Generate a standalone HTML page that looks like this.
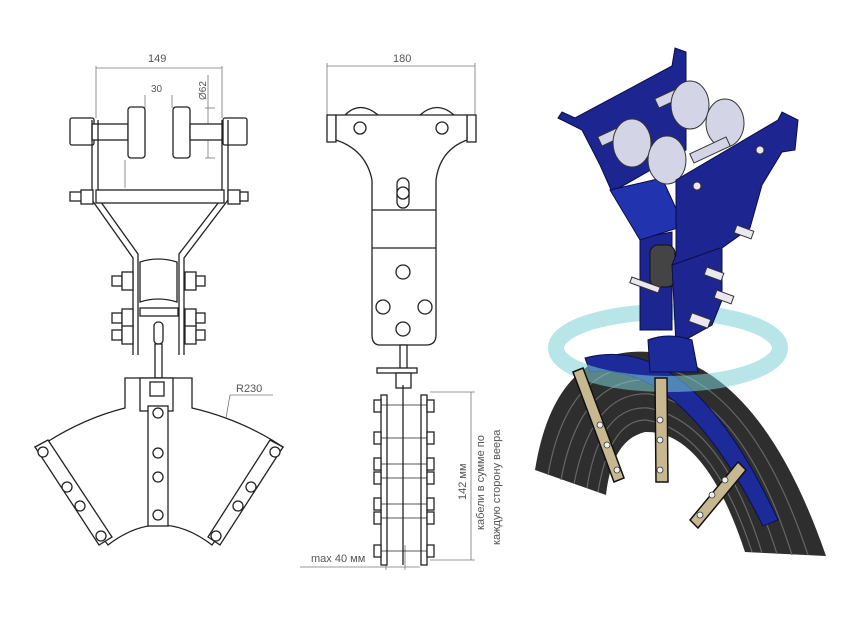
<!DOCTYPE html>
<html><head><meta charset="utf-8"><style>
html,body{margin:0;padding:0;background:#fff;}
svg{display:block;}
text{font-family:"Liberation Sans","DejaVu Sans",sans-serif;fill:#555;}
</style></head><body>
<svg width="858" height="638" viewBox="0 0 858 638" xmlns="http://www.w3.org/2000/svg">
<rect width="858" height="638" fill="#fff"/>
<g stroke="#222" stroke-width="1.3" fill="#fff">
<!-- LEFT VIEW -->
<g stroke="#777" stroke-width="0.8">
<line x1="96" y1="66" x2="96" y2="118"/><line x1="222" y1="66" x2="222" y2="118"/>
<line x1="96" y1="68" x2="222" y2="68"/>
<line x1="145" y1="95" x2="145" y2="108"/><line x1="172" y1="95" x2="172" y2="108"/>
<line x1="205" y1="108" x2="215" y2="108"/><line x1="205" y1="158" x2="215" y2="158"/>
<line x1="208" y1="75" x2="208" y2="158"/>
<line x1="125" y1="160" x2="125" y2="188"/>
</g>
<text x="148" y="62" font-size="11" stroke="none">149</text>
<text x="151" y="92" font-size="10" stroke="none">30</text>
<text x="0" y="0" font-size="10" stroke="none" transform="translate(206,100) rotate(-90)">Ø62</text>
<rect x="70" y="118" width="24" height="27" rx="2"/>
<rect x="92" y="124" width="36" height="16"/>
<rect x="128" y="107" width="17" height="51" rx="3"/>
<rect x="173" y="107" width="17" height="51" rx="3"/>
<rect x="190" y="124" width="34" height="16"/>
<rect x="223" y="118" width="24" height="27" rx="2"/>
<path d="M92 120 V200 L133 258 V355 M98 120 V198 L138 254 V355" fill="none"/>
<path d="M228 120 V200 L184 258 V355 M222 120 V198 L179 254 V355" fill="none"/>
<rect x="96" y="190" width="128" height="13"/>
<rect x="70" y="192" width="12" height="9"/><rect x="81" y="190" width="12" height="14"/>
<rect x="228" y="190" width="12" height="14"/><rect x="240" y="192" width="8" height="9"/>
<path d="M140 262 Q158 256 177 262 V302 Q158 296 140 302 Z"/>
<rect x="140" y="308" width="38" height="8"/>
<g>
<rect x="112" y="276" width="10" height="10"/><rect x="122" y="272" width="11" height="18"/>
<rect x="185" y="272" width="11" height="18"/><rect x="196" y="276" width="9" height="10"/>
<rect x="112" y="313" width="10" height="10"/><rect x="122" y="309" width="11" height="18"/>
<rect x="185" y="309" width="11" height="18"/><rect x="196" y="313" width="9" height="10"/>
<rect x="112" y="330" width="10" height="10"/><rect x="122" y="326" width="11" height="18"/>
<rect x="185" y="326" width="11" height="18"/><rect x="196" y="330" width="9" height="10"/>
</g>
<rect x="154" y="322" width="9" height="22" rx="4"/>
<rect x="155" y="344" width="7" height="34"/>
<path d="M125 378 H192 V408 Q235 418 272 440 L283 447 L212 545 Q160 505 108 545 L35 447 L47 442 Q85 418 125 408 Z"/>
<rect x="140" y="378" width="33" height="33"/>
<rect x="150" y="382" width="14" height="14"/>
<rect x="148" y="406" width="20" height="120"/>
<path d="M35 447 L48 440 L112 537 L99 545 Z"/>
<path d="M283 447 L270 440 L208 537 L220 545 Z"/>
<g fill="#fff">
<circle cx="158" cy="413" r="5"/><circle cx="158" cy="453" r="5"/><circle cx="158" cy="477" r="5"/><circle cx="158" cy="515" r="5"/>
<circle cx="43" cy="452" r="5"/><circle cx="67" cy="487" r="5"/><circle cx="80" cy="506" r="5"/><circle cx="101" cy="536" r="5"/>
<circle cx="275" cy="452" r="5"/><circle cx="251" cy="487" r="5"/><circle cx="238" cy="506" r="5"/><circle cx="216" cy="536" r="5"/>
</g>
<path d="M230 395 L273 395 M230 395 L226 418" stroke="#777" fill="none" stroke-width="0.8"/>
<text x="236" y="392" font-size="11" stroke="none">R230</text>

<!-- MIDDLE VIEW -->
<g stroke="#777" stroke-width="0.8">
<line x1="327" y1="63" x2="327" y2="118"/><line x1="475" y1="63" x2="475" y2="118"/>
<line x1="327" y1="66" x2="475" y2="66"/>
<line x1="430" y1="392" x2="475" y2="392"/><line x1="430" y1="560" x2="475" y2="560"/>
<line x1="471" y1="392" x2="471" y2="560"/>
<line x1="386" y1="545" x2="386" y2="570"/><line x1="405" y1="545" x2="405" y2="570"/>
<line x1="300" y1="567" x2="420" y2="567"/>
</g>
<text x="393" y="62" font-size="11" stroke="none">180</text>
<path d="M345 115 Q360 100 378 115 M420 115 Q437 100 454 115" fill="none"/>
<rect x="327" y="115" width="9" height="27"/><rect x="467" y="115" width="9" height="27"/>
<path d="M336 115 H467 V140 Q440 150 436 180 V335 Q436 345 426 345 H380 Q372 345 372 335 V180 Q366 150 336 140 Z"/>
<line x1="372" y1="210" x2="436" y2="210"/><line x1="372" y1="248" x2="436" y2="248"/>
<circle cx="360" cy="128" r="6"/><circle cx="442" cy="128" r="6"/>
<rect x="397" y="178" width="12" height="30" rx="6"/><circle cx="403" cy="193" r="6"/>
<circle cx="403" cy="272" r="7"/><circle cx="383" cy="307" r="7"/><circle cx="425" cy="307" r="7"/><circle cx="403" cy="329" r="7"/>
<rect x="400" y="345" width="7" height="28"/>
<rect x="377" y="368" width="40" height="5"/>
<rect x="396" y="373" width="15" height="15"/>
<rect x="381" y="395" width="6" height="170"/><rect x="421" y="395" width="6" height="170"/>
<line x1="403" y1="385" x2="403" y2="565"/>
<g>
<rect x="374" y="400" width="7" height="12"/><rect x="427" y="400" width="7" height="12"/>
<rect x="374" y="432" width="7" height="12"/><rect x="427" y="432" width="7" height="12"/>
<rect x="374" y="458" width="7" height="12"/><rect x="427" y="458" width="7" height="12"/>
<rect x="374" y="472" width="7" height="12"/><rect x="427" y="472" width="7" height="12"/>
<rect x="374" y="498" width="7" height="12"/><rect x="427" y="498" width="7" height="12"/>
<rect x="374" y="512" width="7" height="12"/><rect x="427" y="512" width="7" height="12"/>
<rect x="374" y="545" width="7" height="12"/><rect x="427" y="545" width="7" height="12"/>
</g>
<g stroke-width="0.8"><line x1="381" y1="405" x2="427" y2="405"/><line x1="381" y1="438" x2="427" y2="438"/><line x1="381" y1="464" x2="427" y2="464"/><line x1="381" y1="478" x2="427" y2="478"/><line x1="381" y1="504" x2="427" y2="504"/><line x1="381" y1="518" x2="427" y2="518"/><line x1="381" y1="551" x2="427" y2="551"/></g>
<text font-size="11" stroke="none" transform="translate(466,500) rotate(-90)">142 мм</text>
<text font-size="11" stroke="none" transform="translate(484,530) rotate(-90)">кабели в сумме по</text>
<text font-size="11" stroke="none" transform="translate(500,545) rotate(-90)">каждую сторону веера</text>
<text x="311" y="562" font-size="11" stroke="none">max 40 мм</text>
</g>

<!-- 3D VIEW -->
<g>
<!-- cables -->
<path d="M535 470 Q555 345 650 352 Q760 365 826 556 L745 552 Q705 430 645 432 Q612 440 606 495 Z" fill="#2e2e2e"/>
<g fill="none" stroke="#666" stroke-width="1.2">
<path d="M548 475 Q568 360 652 366 Q750 380 808 555"/>
<path d="M561 480 Q580 375 652 380 Q742 395 792 555"/>
<path d="M574 484 Q592 390 650 394 Q732 410 777 554"/>
<path d="M587 488 Q600 405 648 408 Q722 422 762 553"/>
<path d="M598 492 Q610 420 646 420 Q712 430 752 552"/>
</g>
<!-- blue arc bracket -->
<path d="M585 358 Q690 330 778 520 L763 526 Q680 360 590 372 Z" fill="#1d2a9a" stroke="#0b1050" stroke-width="1"/>
<!-- cyan ring -->
<ellipse cx="668" cy="348" rx="112" ry="36" fill="none" stroke="#7cd0d6" stroke-width="16" opacity="0.55"/>
<!-- back plate -->
<path d="M558 118 L562 112 L575 118 L672 66 L675 48 L686 52 L686 150 L612 192 L600 165 L582 130 Z" fill="#1c2590" stroke="#0a0d45" stroke-width="1"/>
<path d="M640 238 L672 232 L672 330 L640 330 Z" fill="#1c2590" stroke="#0a0d45" stroke-width="1"/>
<path d="M610 190 L662 178 L684 226 L640 240 Z" fill="#2233b0" stroke="#0a0d45" stroke-width="1"/>
<!-- rollers -->
<g fill="#d3d5e6" stroke="#333" stroke-width="1">
<rect x="598" y="128" width="40" height="10" transform="rotate(-25 618 133)"/>
<rect x="655" y="90" width="40" height="10" transform="rotate(-25 675 95)"/>
<ellipse cx="690" cy="105" rx="19" ry="24"/>
<ellipse cx="725" cy="123" rx="19" ry="24"/>
<ellipse cx="632" cy="143" rx="19" ry="24"/>
<ellipse cx="667" cy="160" rx="19" ry="24"/>
<rect x="690" y="145" width="40" height="10" transform="rotate(-25 710 150)"/>
</g>
<rect x="650" y="245" width="25" height="42" rx="8" fill="#444" stroke="#111"/>
<!-- front plate -->
<path d="M676 180 L778 120 L782 112 L798 120 L795 150 L782 152 L762 185 L750 228 L722 248 L722 300 L712 325 L676 345 L672 265 L676 255 Z" fill="#1c2590" stroke="#0a0d45" stroke-width="1"/>
<path d="M672 265 L720 248" stroke="#0a0d45" fill="none"/>
<g fill="#e8e8ee" stroke="#333" stroke-width="1">
<circle cx="697" cy="186" r="4"/><circle cx="760" cy="150" r="4"/>
<rect x="735" y="228" width="18" height="8" transform="rotate(20 744 232)"/>
<rect x="705" y="270" width="18" height="8" transform="rotate(20 714 274)"/>
<rect x="715" y="293" width="18" height="8" transform="rotate(20 724 297)"/>
<rect x="690" y="316" width="20" height="9" transform="rotate(20 700 320)"/>
<rect x="630" y="282" width="30" height="6" transform="rotate(20 645 285)"/>
</g>
<path d="M648 340 Q668 332 692 340 L698 372 L650 372 Z" fill="#1d2a9a" stroke="#0a0d45"/>
<g fill="#c8b890" stroke="#111" stroke-width="1.5">
<path d="M573 372 L583 368 L624 478 L614 482 Z"/>
<path d="M655 378 L667 378 L668 482 L656 482 Z"/>
<path d="M690 520 L738 462 L746 470 L698 528 Z"/>
</g>
<g fill="#eee" stroke="#333" stroke-width="0.8">
<circle cx="600" cy="425" r="3"/><circle cx="607" cy="445" r="3"/><circle cx="617" cy="470" r="3"/>
<circle cx="660" cy="420" r="3"/><circle cx="660" cy="440" r="3"/><circle cx="660" cy="470" r="3"/>
<circle cx="725" cy="480" r="3"/><circle cx="712" cy="495" r="3"/><circle cx="700" cy="515" r="3"/>
</g>
</g>
</svg>
</body></html>
